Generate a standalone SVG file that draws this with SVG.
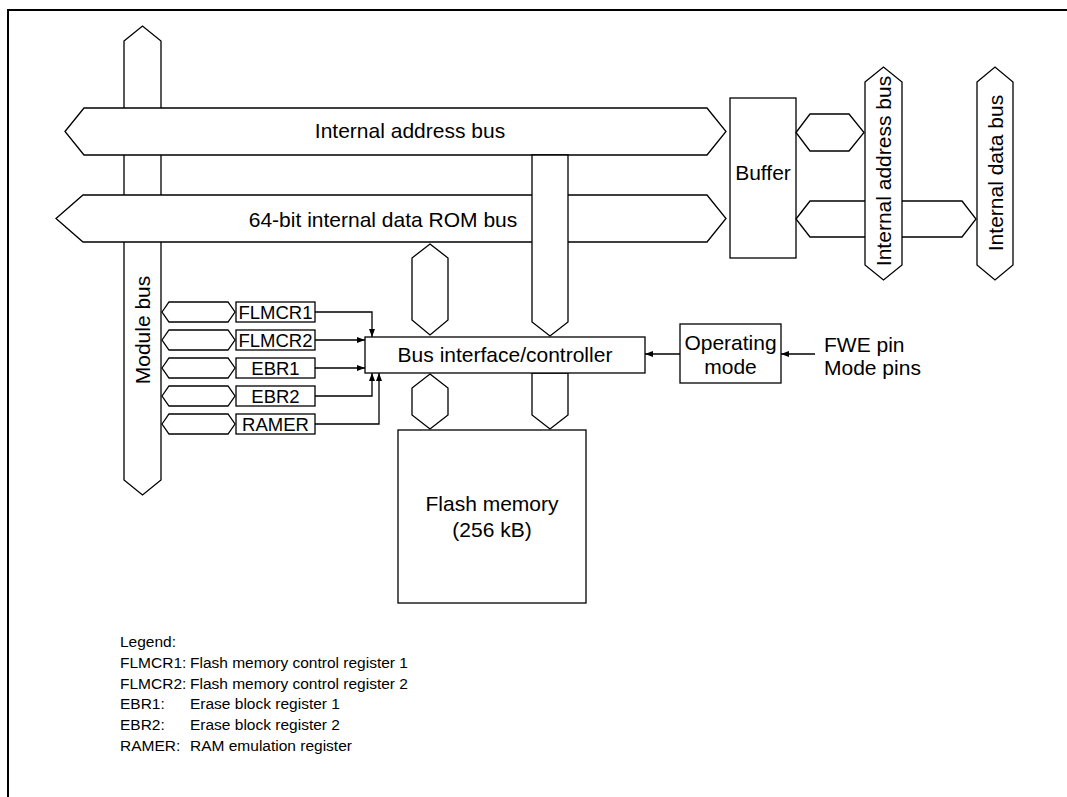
<svg xmlns="http://www.w3.org/2000/svg" width="1067" height="797" viewBox="0 0 1067 797">
<style>
.bus{fill:#fff;stroke:#000;stroke-width:1.3;stroke-linejoin:miter}
.box{fill:#fff;stroke:#000;stroke-width:1.3}
.ln{fill:none;stroke:#000;stroke-width:1.3}
text{font-family:"Liberation Sans",Arial,sans-serif;fill:#000}
.t{font-size:21px}
.c{text-anchor:middle}
.r{font-size:18.5px;text-anchor:middle}
.lg{font-size:15.5px}
</style>
<defs>
<marker id="ah" viewBox="0 0 8 6" refX="8" refY="3" markerWidth="8" markerHeight="6" markerUnits="userSpaceOnUse" orient="auto">
<path d="M0,0 L8,3 L0,6 z" fill="#000"/>
</marker>
</defs>
<rect width="1067" height="797" fill="#fff"/>
<path d="M8,797 V10 H1067" fill="none" stroke="#000" stroke-width="2"/>

<g id="module-bus">
<polygon class="bus" points="124,41 142.5,26 161,41 161,480 142.5,495 124,480"/>
<text class="t c" transform="translate(142.5,330) rotate(-90)" y="7.5">Module bus</text>
</g>

<g id="internal-address-bus">
<polygon class="bus" points="65,131.5 84,108 707,108 726,131.5 707,155 84,155"/>
<text class="t c" x="410" y="138">Internal address bus</text>
</g>

<g id="data-rom-bus">
<polygon class="bus" points="56,218.5 83,195 707,195 726,218.5 707,242 83,242"/>
<text class="t c" x="383" y="227">64-bit internal data ROM bus</text>
</g>

<g id="addr-to-controller-bus">
<polygon class="bus" points="532,155 568,155 568,322 550,336 532,322"/>
</g>

<g id="data-to-controller-bus">
<polygon class="bus" points="430,244 448,258 448,320 430,335 412,320 412,258"/>
</g>

<g id="controller-to-flash-data">
<polygon class="bus" points="430,374 448,388 448,415 430,429 412,415 412,388"/>
</g>

<g id="controller-to-flash-addr">
<polygon class="bus" points="532,373 568,373 568,415 550,429 532,415"/>
</g>

<g id="buffer">
<rect class="box" x="730" y="98" width="66" height="160"/>
<text class="t c" x="763" y="180">Buffer</text>
</g>

<g id="buffer-addr-stub">
<polygon class="bus" points="796,132.5 810,114 849,114 864,132.5 849,151 810,151"/>
</g>

<g id="buffer-data-stub">
<polygon class="bus" points="796,219 810,201 962,201 976,219 962,237 810,237"/>
</g>

<g id="ext-address-bus">
<polygon class="bus" points="865,82 883.5,67 902,82 902,265 883.5,280 865,265"/>
<text class="t c" transform="translate(883.5,171) rotate(-90)" y="7.5">Internal address bus</text>
</g>

<g id="ext-data-bus">
<polygon class="bus" points="977,82 995,67 1013,82 1013,265 995,280 977,265"/>
<text class="t c" transform="translate(995,173) rotate(-90)" y="7.5">Internal data bus</text>
</g>

<g id="stubs">
<polygon class="bus" points="162,312 169,302 228,302 235,312 228,322 169,322"/>
<polygon class="bus" points="162,340 169,330 228,330 235,340 228,350 169,350"/>
<polygon class="bus" points="162,368 169,358 228,358 235,368 228,378 169,378"/>
<polygon class="bus" points="162,396 169,386 228,386 235,396 228,406 169,406"/>
<polygon class="bus" points="162,424 169,414 228,414 235,424 228,434 169,434"/>
</g>

<g id="FLMCR1">
<rect class="box" x="236" y="302" width="79" height="20"/>
<text class="r" x="275.5" y="318.5">FLMCR1</text>
</g>
<g id="FLMCR2">
<rect class="box" x="236" y="330" width="79" height="20"/>
<text class="r" x="275.5" y="346.5">FLMCR2</text>
</g>
<g id="EBR1">
<rect class="box" x="236" y="358" width="79" height="20"/>
<text class="r" x="275.5" y="374.5">EBR1</text>
</g>
<g id="EBR2">
<rect class="box" x="236" y="386" width="79" height="20"/>
<text class="r" x="275.5" y="402.5">EBR2</text>
</g>
<g id="RAMER">
<rect class="box" x="236" y="414" width="79" height="20"/>
<text class="r" x="275.5" y="430.5">RAMER</text>
</g>

<g id="controller">
<rect class="box" x="365" y="337" width="280" height="36"/>
<text class="t c" x="505" y="362">Bus interface/controller</text>
</g>

<g id="operating-mode">
<rect class="box" x="680" y="324" width="101" height="59"/>
<text class="t c" x="730.5" y="350">Operating</text>
<text class="t c" x="730.5" y="374">mode</text>
</g>

<g id="pins">
<text class="t" x="824" y="352">FWE pin</text>
<text class="t" x="824" y="375">Mode pins</text>
</g>

<g id="flash">
<rect class="box" x="398" y="430" width="188" height="173"/>
<text class="t c" x="492" y="511">Flash memory</text>
<text class="t c" x="492" y="537">(256 kB)</text>
</g>

<g id="connectors">
<polyline class="ln" points="315,312 372,312 372,337" marker-end="url(#ah)"/>
<polyline class="ln" points="315,340 365,340" marker-end="url(#ah)"/>
<polyline class="ln" points="315,368 365,368" marker-end="url(#ah)"/>
<polyline class="ln" points="315,396 372,396 372,373" marker-end="url(#ah)"/>
<polyline class="ln" points="315,424 379,424 379,373" marker-end="url(#ah)"/>
<polyline class="ln" points="680,354 645,354" marker-end="url(#ah)"/>
<polyline class="ln" points="815,354 781,354" marker-end="url(#ah)"/>
</g>

<g id="legend" class="lg">
<text class="lg" x="120" y="647">Legend:</text>
<text class="lg" x="120" y="668">FLMCR1:</text><text class="lg" x="190" y="668">Flash memory control register 1</text>
<text class="lg" x="120" y="689">FLMCR2:</text><text class="lg" x="190" y="689">Flash memory control register 2</text>
<text class="lg" x="120" y="709">EBR1:</text><text class="lg" x="190" y="709">Erase block register 1</text>
<text class="lg" x="120" y="730">EBR2:</text><text class="lg" x="190" y="730">Erase block register 2</text>
<text class="lg" x="120" y="751">RAMER:</text><text class="lg" x="190" y="751">RAM emulation register</text>
</g>
</svg>
